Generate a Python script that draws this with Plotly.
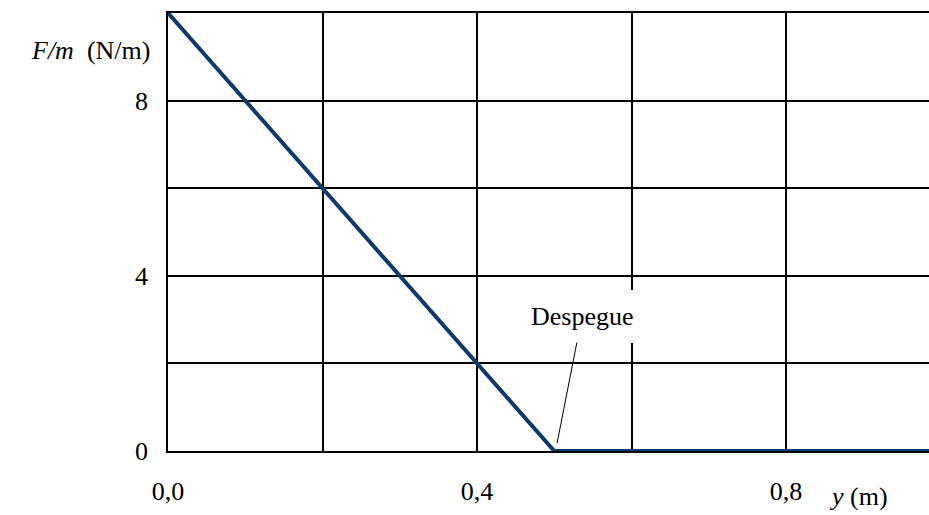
import plotly.graph_objects as go

# Data
y_pos = [0.0, 0.5, 1.0]          # y (m)
force = [10.0, 0.0, 0.0]         # F/m (N/m)

x_tickvals = [0.0, 0.2, 0.4, 0.6, 0.8, 1.0]
x_ticktext = ["0,0", "", "0,4", "", "0,8", ""]
y_tickvals = [0, 2, 4, 6, 8, 10]
y_ticktext = ["0", "", "4", "", "8", ""]

FONT = "Liberation Serif, Times New Roman, serif"

fig = go.Figure()
fig.add_trace(go.Scatter(
    x=y_pos, y=force, mode="lines",
    line=dict(color="#0d3a6b", width=4),
    cliponaxis=True, showlegend=False, hoverinfo="skip",
))

fig.add_annotation(
    x=0.5036, y=0.18, xref="x", yref="y",
    text="Despegue", showarrow=True, arrowhead=0, arrowwidth=1,
    arrowcolor="black", ax=25, ay=-127,
    bgcolor="white", borderpad=12, borderwidth=0,
    font=dict(family=FONT, size=26, color="black"),
)

fig.add_annotation(
    x=-0.021, y=0.9155, xref="paper", yref="paper",
    xanchor="right", yanchor="middle", showarrow=False,
    text="<i>F/m</i>\u00a0\u00a0(N/m)",
    font=dict(family=FONT, size=26, color="black"),
)
fig.add_annotation(
    x=0.9488, y=-0.105, xref="paper", yref="paper",
    xanchor="right", yanchor="middle", showarrow=False,
    text="<i>y</i> (m)",
    font=dict(family=FONT, size=26, color="black"),
)

fig.update_layout(
    width=929, height=515,
    margin=dict(l=168, r=0, t=13, b=64, autoexpand=False),
    paper_bgcolor="white", plot_bgcolor="white",
    font=dict(family=FONT, size=26, color="black"),
    xaxis=dict(
        range=[0, 0.985], tickvals=x_tickvals, ticktext=x_ticktext,
        showgrid=True, gridcolor="black", gridwidth=1.5,
        showline=True, linecolor="black", linewidth=1.5, mirror=True,
        ticks="", zeroline=False, ticklabelstandoff=16, automargin=False,
        tickfont=dict(family=FONT, size=26, color="black"),
    ),
    yaxis=dict(
        range=[0, 10], tickvals=y_tickvals, ticktext=y_ticktext,
        showgrid=True, gridcolor="black", gridwidth=1.5,
        showline=True, linecolor="black", linewidth=1.5,
        ticks="", zeroline=False, ticklabelstandoff=13, automargin=False,
        tickfont=dict(family=FONT, size=26, color="black"),
    ),
)

fig.write_html(
    "out.html",
    config={"displayModeBar": False},
    post_script="document.body.style.margin='0';document.body.style.overflow='hidden';",
)
